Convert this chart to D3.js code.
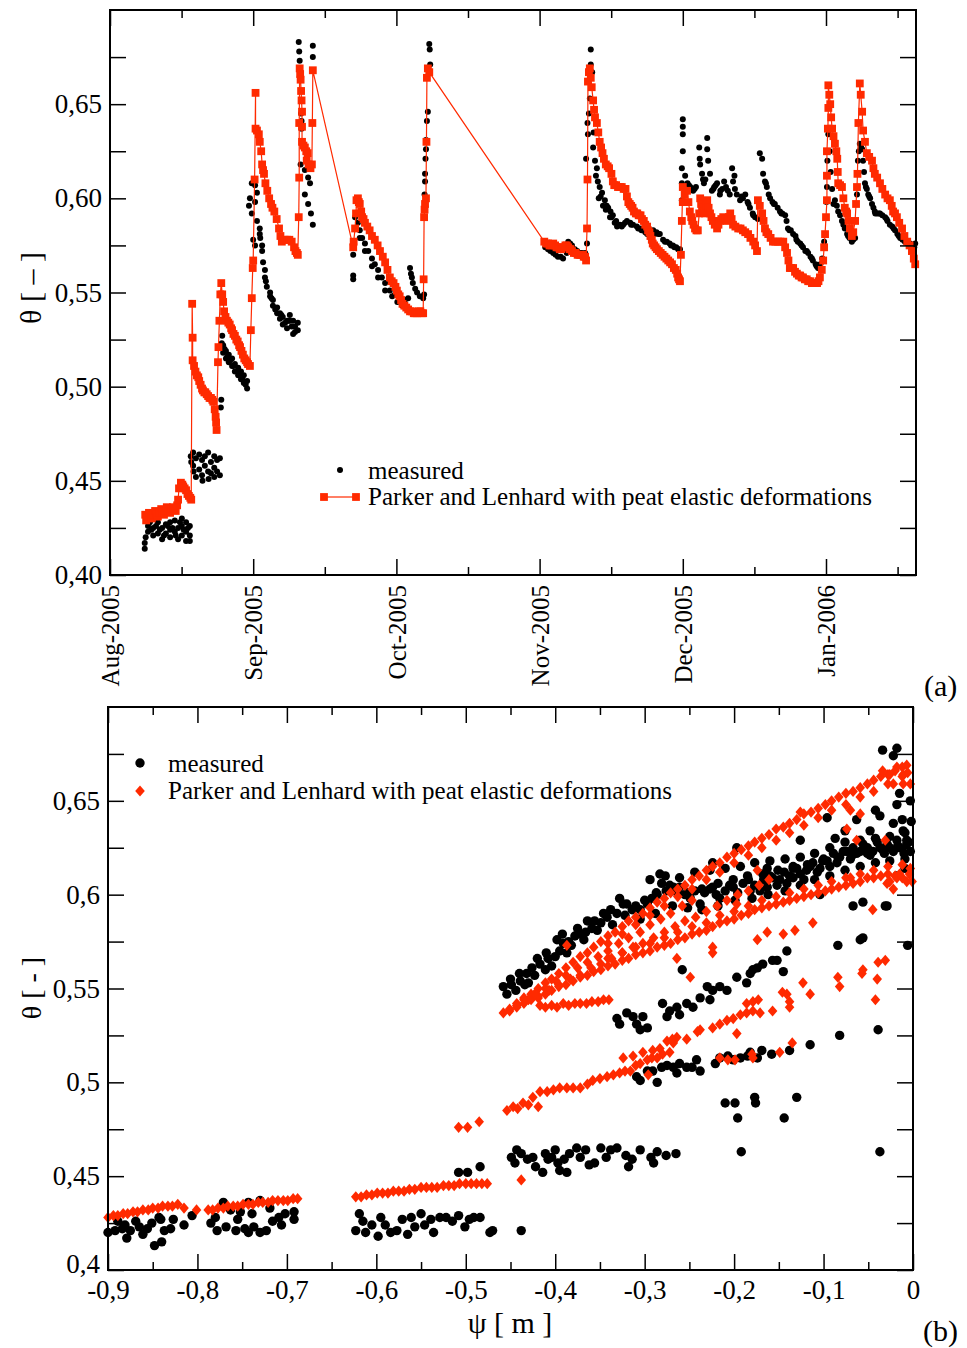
<!DOCTYPE html>
<html><head><meta charset="utf-8">
<script src="https://cdn.jsdelivr.net/npm/d3@7"></script>
<style>body{margin:0;background:#fff}svg text{font-family:"Liberation Serif","Times New Roman",serif;fill:#000}</style>
</head><body><svg id="c" width="967" height="1348"></svg>
<script>
// ---------- tick labels / categories ----------
const monthLabels=["Aug-2005","Sep-2005","Oct-2005","Nov-2005","Dec-2005","Jan-2006"];
const monthTicks=[0,30.5,61,91.5,122,152.5];
const monthMinor=[15.25,45.75,76.25,106.75,137.25,167.75];
const thetaTicks=[0.40,0.45,0.50,0.55,0.60,0.65];
const thetaLabelsA=["0,40","0,45","0,50","0,55","0,60","0,65"];
const thetaLabelsB=["0,4","0,45","0,5","0,55","0,6","0,65"];
const thetaMinor=[0.425,0.475,0.525,0.575,0.625,0.675];
const psiTicks=[-0.9,-0.8,-0.7,-0.6,-0.5,-0.4,-0.3,-0.2,-0.1,0];
const psiLabels=["-0,9","-0,8","-0,7","-0,6","-0,5","-0,4","-0,3","-0,2","-0,1","0"];
const psiMinor=[-0.85,-0.75,-0.65,-0.55,-0.45,-0.35,-0.25,-0.15,-0.05];
const seriesNames=["measured","Parker and Lenhard with peat elastic deformations"];

// ---------- panel (a): [day since 1 Aug 2005, theta] ----------
const measuredA=[
[7.4,0.414],[7.4,0.417],[7.6,0.420],[8.1,0.423],[8.1,0.426],[8.5,0.428],[8.8,0.424],[9.2,0.425],[9.2,0.421],[9.8,0.426],[10.2,0.422],[10.2,0.428],[10.6,0.424],[11.1,0.419],[11.1,0.425],[11.5,0.421],[11.9,0.427],[11.9,0.422],[12.3,0.426],[12.8,0.428],[12.8,0.424],[12.8,0.420],[13.3,0.425],[13.8,0.429],[13.8,0.423],[14.0,0.421],[14.5,0.425],[14.5,0.419],[14.9,0.428],[15.3,0.430],[15.3,0.426],[15.3,0.421],[15.7,0.424],[16.2,0.428],[16.2,0.423],[16.2,0.418],[16.6,0.425],[17.0,0.426],[17.0,0.421],[17.0,0.418],
[17.2,0.463],[17.3,0.460],[17.7,0.465],[17.7,0.458],[17.8,0.455],[18.3,0.462],[18.3,0.452],[19.0,0.464],[19.0,0.456],[19.6,0.461],[19.6,0.453],[19.7,0.450],[20.2,0.463],[20.2,0.458],[20.9,0.465],[20.9,0.455],[21.0,0.451],[21.5,0.460],[21.5,0.454],[22.2,0.463],[22.2,0.457],[22.2,0.452],[22.8,0.461],[22.8,0.455],[23.4,0.462],[23.4,0.453],
[23.6,0.489],[23.7,0.493],[23.8,0.523],[23.9,0.527],[24.1,0.522],[24.1,0.518],[24.4,0.520],[24.7,0.519],[24.7,0.515],[25.0,0.516],[25.3,0.517],[25.3,0.513],[25.6,0.514],[26.0,0.515],[26.0,0.511],[26.3,0.511],[26.6,0.512],[26.6,0.508],[27.0,0.508],[27.3,0.510],[27.3,0.506],[27.6,0.507],[27.9,0.508],[27.9,0.504],[28.2,0.504],[28.5,0.506],[28.5,0.502],[28.9,0.501],[29.2,0.503],[29.2,0.499],
[29.6,0.596],[29.8,0.600],[30.2,0.608],[30.2,0.592],[30.5,0.578],[30.9,0.607],[30.9,0.598],[30.9,0.575],[31.3,0.603],[31.3,0.588],[31.9,0.584],[31.9,0.581],[32.0,0.579],[32.4,0.575],[32.4,0.572],[32.6,0.566],[33.0,0.562],[33.0,0.558],[33.2,0.556],[33.4,0.553],[34.1,0.550],[34.1,0.548],[34.4,0.547],[34.7,0.546],[34.7,0.543],[35.2,0.541],[35.6,0.542],[35.6,0.539],[36.2,0.539],[36.2,0.536],[36.5,0.538],[36.8,0.537],[36.8,0.533],[37.3,0.534],[37.7,0.535],[37.7,0.531],[38.0,0.535],[38.3,0.538],[38.3,0.535],[38.7,0.532],[39.0,0.535],[39.0,0.528],[39.4,0.532],[39.4,0.529],[40.0,0.534],[40.0,0.530],
[40.2,0.683],[40.3,0.678],[40.4,0.673],[40.7,0.645],[40.8,0.641],[40.8,0.637],[40.9,0.629],[40.6,0.618],[41.5,0.615],[42.2,0.611],[42.6,0.608],[41.5,0.602],[42.2,0.597],[42.8,0.592],[43.2,0.586],[43.2,0.681],[43.2,0.675],
[51.8,0.570],[51.8,0.559],[51.8,0.557],[52.2,0.590],[52.8,0.587],[53.2,0.583],[53.2,0.579],[53.7,0.579],[54.3,0.576],[54.3,0.572],[55.0,0.572],[55.8,0.568],[55.8,0.564],[56.4,0.565],[57.1,0.562],[57.1,0.558],[57.9,0.558],[58.6,0.555],[58.6,0.551],[59.6,0.551],[60.1,0.548],[60.7,0.549],[61.2,0.545],[61.8,0.547],[62.3,0.543],[62.8,0.546],[63.5,0.547],
[63.9,0.563],[64.1,0.560],[64.3,0.558],[64.5,0.555],[65.0,0.552],[65.4,0.550],[66.0,0.548],[66.7,0.547],[66.9,0.549],
[67.0,0.602],[67.1,0.609],[67.1,0.613],[67.2,0.621],[67.3,0.626],[67.3,0.631],[67.5,0.641],[67.7,0.646],[68.0,0.682],[68.1,0.679],[68.2,0.671],
[92.7,0.574],[93.3,0.573],[93.8,0.572],[94.4,0.571],[94.9,0.570],[95.4,0.569],[96.0,0.569],[96.5,0.568],[97.3,0.571],[97.6,0.577],[98.0,0.576],[98.4,0.575],[99.0,0.573],[99.5,0.572],[100.0,0.571],[100.5,0.571],[101.2,0.571],[101.6,0.576],
[101.4,0.621],[101.7,0.640],[101.8,0.634],[102.0,0.645],[102.2,0.653],[102.4,0.679],[102.4,0.671],[102.7,0.667],
[102.9,0.627],[103.0,0.635],[103.3,0.620],[103.5,0.612],[103.7,0.616],[103.9,0.609],[104.1,0.600],[104.3,0.606],[104.5,0.601],[104.8,0.603],[105.0,0.596],[105.4,0.599],[105.6,0.594],[105.8,0.596],[106.1,0.595],[106.5,0.590],[106.6,0.593],[106.8,0.590],[107.1,0.591],[107.5,0.587],[107.8,0.588],[108.0,0.585],[108.6,0.586],[109.0,0.585],[109.3,0.586],[109.7,0.587],[110.1,0.588],[110.8,0.587],[111.0,0.586],[111.4,0.586],[112.2,0.585],[112.5,0.584],[112.9,0.584],[113.2,0.583],[113.6,0.583],[114.0,0.582],[114.4,0.581],[114.8,0.581],[115.0,0.582],[115.7,0.583],[116.0,0.581],[116.4,0.582],[116.8,0.581],[117.1,0.581],[117.8,0.578],[118.2,0.577],[118.6,0.577],[119.2,0.576],[119.5,0.575],[119.9,0.575],[120.2,0.574],[120.6,0.574],[121.0,0.573],[121.4,0.573],
[121.8,0.599],[121.8,0.608],[121.8,0.616],[122.0,0.625],[122.0,0.634],[122.0,0.638],[122.0,0.642],[122.5,0.612],[123.0,0.608],[123.3,0.607],[123.6,0.606],[124.2,0.604],[124.5,0.605],[124.8,0.606],[125.5,0.627],[125.6,0.621],[125.7,0.618],[126.1,0.613],[126.3,0.610],[126.5,0.608],[126.8,0.610],[127.2,0.632],[127.2,0.626],[127.4,0.620],[127.8,0.613],[128.2,0.604],[128.5,0.605],[128.7,0.606],[129.0,0.607],[129.3,0.608],[129.9,0.602],[130.0,0.604],[130.4,0.605],[130.8,0.609],[131.2,0.606],[131.6,0.604],[132.0,0.602],[132.5,0.616],[132.7,0.609],[133.0,0.612],[133.1,0.605],[133.5,0.602],[134.2,0.599],[134.5,0.601],[134.8,0.600],[135.3,0.602],[135.8,0.598],[136.0,0.597],[136.3,0.595],[136.9,0.592],[137.0,0.591],[137.4,0.590],[138.0,0.589],[138.4,0.624],[138.9,0.621],[139.1,0.613],[139.5,0.609],[139.7,0.608],[139.9,0.606],[140.3,0.602],[140.6,0.600],[141.1,0.598],[141.4,0.597],[141.6,0.597],[142.2,0.595],[142.7,0.593],[143.0,0.592],[143.2,0.592],[143.8,0.591],[144.1,0.588],[144.4,0.584],[144.7,0.583],[145.0,0.583],[145.5,0.581],[146.0,0.580],[146.2,0.578],[146.5,0.577],[147.0,0.576],[147.3,0.575],[147.6,0.574],[148.1,0.572],[148.4,0.572],[148.7,0.571],[149.2,0.569],[149.5,0.568],[149.7,0.567],[150.3,0.565],[150.5,0.564],[150.8,0.563],[151.0,0.563],[151.3,0.565],[151.7,0.568],[152.1,0.577],[152.5,0.590],[152.6,0.598],[152.7,0.606],[152.8,0.620],[153.0,0.634],[153.3,0.625],[153.5,0.614],[153.8,0.605],[154.1,0.597],[154.4,0.599],[154.8,0.596],[155.1,0.593],[155.5,0.591],[155.9,0.588],[156.2,0.586],[156.5,0.584],[157.0,0.581],[157.2,0.580],[157.5,0.579],[158.0,0.577],[158.3,0.578],[158.7,0.579],[159.1,0.602],[159.3,0.620],[159.5,0.625],[159.7,0.629],[160.0,0.627],[160.2,0.626],[160.4,0.620],[160.6,0.614],[160.8,0.608],[161.0,0.606],[161.2,0.605],[161.5,0.602],[161.7,0.601],[161.9,0.600],[162.3,0.597],[162.6,0.595],[162.9,0.593],[163.0,0.592],[163.4,0.592],[163.8,0.592],[164.0,0.592],[164.5,0.591],[165.1,0.590],[165.4,0.589],[165.6,0.588],[166.1,0.586],[166.6,0.585],[166.9,0.584],[167.2,0.583],[167.7,0.581],[168.0,0.580],[168.3,0.579],[168.8,0.578],[169.1,0.578],[169.3,0.577],[169.9,0.576],[170.1,0.576],[170.4,0.576],[170.7,0.575],[171.0,0.575],[171.3,0.574],[171.5,0.576]
];
const modelA=[
[7.5,0.432],[7.7,0.429],[8.0,0.431],[8.3,0.433],[8.6,0.431],[8.9,0.430],[9.3,0.432],[9.6,0.434],[9.9,0.432],[10.2,0.431],[10.6,0.433],[10.9,0.435],[11.2,0.433],[11.5,0.432],[11.8,0.434],[12.1,0.436],[12.5,0.434],[12.8,0.433],[13.1,0.435],[13.4,0.436],[13.7,0.435],[14.0,0.434],[14.3,0.437],[14.5,0.440],[14.7,0.446],[15.1,0.449],[15.4,0.448],[15.6,0.447],[15.9,0.446],[16.2,0.445],[16.5,0.443],[16.8,0.442],[17.1,0.441],[17.3,0.440],
[17.5,0.544],[17.6,0.526],[17.6,0.514],[17.9,0.511],[18.2,0.508],[18.5,0.506],[18.8,0.505],[19.0,0.503],[19.3,0.501],[19.6,0.499],[19.8,0.498],[20.1,0.497],[20.3,0.497],[20.6,0.496],[20.9,0.495],[21.2,0.494],[21.5,0.494],[21.8,0.493],[22.0,0.492],[22.3,0.488],[22.5,0.484],[22.6,0.481],[22.7,0.477],
[23.0,0.513],[23.1,0.521],[23.3,0.535],[23.5,0.549],[23.7,0.555],[23.9,0.549],[24.1,0.545],[24.3,0.540],[24.6,0.537],[24.9,0.535],[25.2,0.534],[25.5,0.533],[25.8,0.531],[26.0,0.530],[26.3,0.528],[26.6,0.527],[26.9,0.525],[27.2,0.524],[27.5,0.522],[27.7,0.521],[28.0,0.519],[28.3,0.517],[28.6,0.515],[28.9,0.514],[29.2,0.513],[29.4,0.512],[29.8,0.511],
[30.0,0.530],[30.2,0.547],[30.4,0.563],[30.5,0.567],[30.8,0.610],[31.0,0.656],[31.0,0.637],[31.3,0.636],[31.7,0.634],[31.9,0.630],[32.2,0.625],[32.4,0.618],[32.6,0.615],[32.8,0.613],[33.1,0.608],[33.5,0.604],[33.9,0.600],[34.3,0.597],[34.6,0.595],[35.0,0.593],[35.5,0.589],[36.0,0.584],[36.3,0.580],[36.6,0.577],[37.2,0.578],[37.7,0.578],[38.2,0.578],[38.7,0.577],[39.2,0.574],[39.5,0.572],[39.8,0.571],[40.0,0.570],
[40.2,0.590],[40.3,0.611],[40.3,0.640],[40.4,0.669],[40.5,0.666],[40.6,0.663],[40.7,0.657],[40.8,0.652],[40.9,0.646],[40.9,0.638],[40.9,0.630],[41.2,0.628],[41.5,0.627],[41.8,0.625],[42.1,0.624],[41.9,0.620],[42.3,0.618],[42.7,0.616],[43.0,0.618],[43.1,0.640],[43.2,0.668],
[51.8,0.574],[51.9,0.577],[52.2,0.584],[52.4,0.592],[52.5,0.599],[52.8,0.600],[53.0,0.598],[53.2,0.597],[53.5,0.593],[53.7,0.590],[54.0,0.589],[54.3,0.587],[54.8,0.585],[55.3,0.583],[55.8,0.580],[56.4,0.578],[57.0,0.575],[57.5,0.572],[58.1,0.569],[58.6,0.566],[59.1,0.562],[59.6,0.558],[60.0,0.556],[60.4,0.555],[60.8,0.553],[61.1,0.551],[61.4,0.549],[61.7,0.548],[62.0,0.546],[62.3,0.544],[62.7,0.543],[63.1,0.542],[63.5,0.541],[63.9,0.540],[64.3,0.540],[64.7,0.539],[65.0,0.539],[65.4,0.539],[65.8,0.540],[66.1,0.540],[66.4,0.539],[66.7,0.539],
[66.8,0.557],[66.9,0.590],[67.0,0.594],[67.1,0.597],[67.3,0.600],[67.4,0.630],[67.5,0.664],[67.7,0.669],[68.0,0.667],
[92.5,0.577],[92.9,0.576],[93.3,0.576],[93.6,0.575],[94.0,0.575],[94.4,0.576],[94.8,0.575],[95.1,0.574],[95.4,0.574],[95.8,0.573],[96.1,0.573],[96.4,0.574],[96.8,0.574],[97.0,0.575],[97.3,0.575],[97.6,0.574],[97.9,0.573],[98.1,0.573],[98.4,0.572],[98.8,0.571],[99.2,0.571],[99.6,0.570],[100.0,0.570],[100.3,0.570],[100.6,0.570],[100.9,0.569],[101.2,0.569],[101.4,0.567],[101.6,0.584],[101.7,0.610],[101.8,0.662],[102.0,0.667],[102.2,0.669],[102.4,0.664],
[102.6,0.659],[102.9,0.652],[103.1,0.647],[103.3,0.643],[103.7,0.640],[104.0,0.635],[104.3,0.630],[104.6,0.627],[104.9,0.624],[105.2,0.621],[105.6,0.618],[106.0,0.617],[106.3,0.616],[106.8,0.613],[107.1,0.609],[107.4,0.607],[107.8,0.607],[108.2,0.606],[108.6,0.606],[109.0,0.606],[109.4,0.605],[109.8,0.605],[110.1,0.601],[110.4,0.598],[110.7,0.597],[111.0,0.596],[111.3,0.595],[111.6,0.593],[112.0,0.592],[112.3,0.592],[112.6,0.591],[113.0,0.591],[113.3,0.589],[113.7,0.588],[114.0,0.586],[114.4,0.585],[114.6,0.583],[114.9,0.582],[115.1,0.580],[115.4,0.578],[115.6,0.576],[115.9,0.575],[116.2,0.574],[116.5,0.573],[116.9,0.572],[117.3,0.571],[117.7,0.570],[118.1,0.569],[118.5,0.568],[118.9,0.567],[119.3,0.566],[119.7,0.565],[120.1,0.563],[120.5,0.562],[120.8,0.560],[121.0,0.558],[121.2,0.557],[121.4,0.556],
[121.6,0.570],[121.8,0.588],[122.0,0.606],[122.0,0.598],[122.4,0.602],[122.9,0.604],[123.2,0.598],[123.5,0.593],[123.8,0.590],[124.0,0.588],[124.3,0.586],[124.6,0.584],[124.9,0.583],[125.2,0.583],[125.5,0.592],[125.7,0.600],[125.9,0.597],[126.1,0.595],[126.4,0.593],[126.7,0.592],[127.0,0.596],[127.2,0.599],[127.5,0.595],[127.8,0.592],[128.1,0.590],[128.4,0.588],[128.8,0.586],[129.3,0.584],[129.6,0.586],[129.9,0.588],[130.2,0.589],[130.6,0.590],[131.0,0.589],[131.4,0.588],[131.8,0.590],[132.1,0.592],[132.4,0.589],[132.7,0.586],[133.2,0.585],[133.8,0.584],[134.3,0.584],[134.8,0.583],[135.3,0.582],[135.9,0.581],[136.4,0.579],[137.0,0.577],[137.4,0.575],[137.8,0.572],[138.0,0.599],[138.4,0.596],[138.9,0.592],[139.2,0.588],[139.5,0.584],[139.8,0.582],[140.2,0.581],[140.7,0.579],[141.2,0.577],[141.7,0.577],[142.3,0.577],[142.8,0.577],[143.4,0.577],[143.8,0.574],[144.2,0.571],[144.5,0.567],[144.8,0.563],[145.1,0.563],[145.5,0.563],[145.9,0.561],[146.3,0.560],[146.7,0.559],[147.0,0.559],[147.3,0.558],[147.6,0.558],[148.0,0.557],[148.4,0.557],[148.7,0.556],[149.1,0.556],[149.5,0.555],[149.9,0.555],[150.2,0.555],[150.6,0.555],[150.9,0.556],[151.2,0.558],[151.6,0.562],[151.9,0.567],[152.1,0.574],[152.3,0.581],[152.5,0.590],[152.7,0.599],[152.7,0.612],[152.7,0.625],[152.9,0.637],[153.0,0.648],[153.0,0.660],[153.2,0.655],[153.4,0.650],[153.6,0.643],[153.8,0.637],[154.1,0.633],[154.4,0.629],[154.7,0.625],[154.9,0.621],[155.0,0.614],[155.1,0.608],[155.5,0.607],[155.9,0.606],[156.2,0.600],[156.5,0.595],[156.8,0.593],[157.0,0.592],[157.3,0.588],[157.6,0.584],[158.0,0.580],[158.3,0.582],[158.7,0.588],[158.9,0.597],[159.1,0.606],[159.2,0.613],[159.4,0.640],[159.7,0.661],[159.9,0.655],[160.2,0.646],[160.4,0.636],[160.8,0.630],[161.2,0.624],[161.7,0.622],[162.3,0.620],[162.6,0.616],[162.9,0.613],[163.4,0.611],[164.0,0.608],[164.5,0.605],[165.1,0.602],[165.6,0.600],[166.1,0.599],[166.5,0.596],[166.8,0.593],[167.2,0.592],[167.6,0.590],[168.1,0.587],[168.7,0.584],[169.2,0.580],[169.8,0.577],[170.3,0.575],[170.8,0.572],[171.2,0.568],[171.5,0.565]
];

// ---------- panel (b): [psi (m), theta] ----------
const measuredB=[
[-0.900,0.420],[-0.889,0.426],[-0.879,0.417],[-0.875,0.421],[-0.865,0.423],[-0.861,0.419],[-0.851,0.425],[-0.848,0.413],[-0.840,0.415],[-0.837,0.421],[-0.827,0.427],[-0.815,0.424],[-0.806,0.429],[-0.841,0.427],[-0.892,0.421],[-0.884,0.422],[-0.869,0.426],[-0.856,0.422],[-0.843,0.428],[-0.881,0.424],[-0.830,0.422],
[-0.785,0.425],[-0.778,0.421],[-0.768,0.423],[-0.757,0.421],[-0.747,0.422],[-0.743,0.420],[-0.737,0.423],[-0.730,0.420],[-0.723,0.421],[-0.716,0.426],[-0.709,0.428],[-0.702,0.430],[-0.692,0.427],[-0.692,0.431],[-0.743,0.436],[-0.730,0.437],[-0.771,0.436],[-0.763,0.432],[-0.752,0.431],[-0.739,0.430],[-0.719,0.433],[-0.706,0.424],[-0.755,0.427],[-0.780,0.428],
[-0.623,0.421],[-0.619,0.430],[-0.612,0.420],[-0.605,0.424],[-0.598,0.418],[-0.595,0.428],[-0.584,0.420],[-0.577,0.421],[-0.571,0.427],[-0.561,0.428],[-0.557,0.423],[-0.550,0.430],[-0.539,0.427],[-0.536,0.420],[-0.522,0.428],[-0.515,0.426],[-0.508,0.429],[-0.501,0.423],[-0.491,0.428],[-0.484,0.428],[-0.473,0.420],[-0.470,0.421],[-0.438,0.421],[-0.590,0.424],[-0.565,0.419],[-0.546,0.424],[-0.529,0.428],[-0.496,0.427],[-0.615,0.426],
[-0.508,0.452],[-0.498,0.452],[-0.484,0.455],
[-0.449,0.460],[-0.445,0.457],[-0.438,0.462],[-0.431,0.459],[-0.425,0.460],[-0.422,0.455],[-0.414,0.452],[-0.411,0.462],[-0.404,0.460],[-0.400,0.464],[-0.397,0.457],[-0.390,0.459],[-0.387,0.452],[-0.384,0.462],[-0.376,0.465],[-0.372,0.460],[-0.366,0.464],[-0.356,0.457],[-0.349,0.465],[-0.338,0.464],[-0.331,0.465],[-0.321,0.461],[-0.318,0.455],[-0.314,0.459],[-0.293,0.460],[-0.290,0.457],[-0.286,0.463],[-0.276,0.461],[-0.265,0.462],[-0.443,0.464],[-0.408,0.459],[-0.362,0.456],[-0.343,0.460],[-0.305,0.464],[-0.395,0.453],
[-0.192,0.463],[-0.037,0.463],
[-0.210,0.489],[-0.199,0.489],[-0.196,0.481],[-0.177,0.492],[-0.176,0.489],[-0.144,0.481],[-0.130,0.492],
[-0.309,0.503],[-0.305,0.501],[-0.297,0.506],[-0.291,0.506],[-0.286,0.500],[-0.281,0.508],[-0.275,0.509],[-0.268,0.508],[-0.264,0.505],[-0.261,0.510],[-0.253,0.508],[-0.247,0.508],[-0.242,0.512],[-0.238,0.506],[-0.221,0.510],[-0.216,0.513],[-0.207,0.514],[-0.201,0.512],[-0.193,0.513],[-0.185,0.514],[-0.182,0.516],[-0.174,0.513],[-0.169,0.517],[-0.158,0.515],[-0.138,0.517],[-0.115,0.520],[-0.082,0.525],[-0.039,0.528],
[-0.331,0.534],[-0.328,0.531],[-0.320,0.537],[-0.313,0.535],[-0.309,0.531],[-0.302,0.535],[-0.297,0.529],[-0.305,0.528],[-0.280,0.542],[-0.275,0.535],[-0.272,0.538],[-0.264,0.540],[-0.261,0.536],[-0.253,0.542],[-0.246,0.540],[-0.238,0.545],[-0.227,0.544],[-0.224,0.549],[-0.216,0.551],[-0.208,0.549],[-0.197,0.556],[-0.186,0.553],[-0.182,0.558],[-0.174,0.561],[-0.168,0.563],[-0.157,0.565],[-0.145,0.559],[-0.258,0.560],[-0.230,0.551],[-0.179,0.560],[-0.152,0.565],[-0.141,0.570],[-0.084,0.573],[-0.059,0.576],[-0.056,0.577],[-0.029,0.594],[-0.006,0.573],
[-0.458,0.551],[-0.454,0.547],[-0.449,0.552],[-0.444,0.549],[-0.439,0.554],[-0.434,0.552],[-0.432,0.558],[-0.426,0.561],[-0.423,0.557],[-0.417,0.563],[-0.411,0.560],[-0.408,0.566],[-0.404,0.562],[-0.398,0.576],[-0.395,0.570],[-0.391,0.574],[-0.387,0.569],[-0.382,0.573],[-0.378,0.578],[-0.372,0.579],[-0.368,0.576],[-0.364,0.586],[-0.359,0.582],[-0.353,0.581],[-0.349,0.585],[-0.342,0.588],[-0.336,0.584],[-0.331,0.590],[-0.328,0.598],[-0.324,0.595],[-0.320,0.595],[-0.314,0.592],[-0.310,0.594],[-0.305,0.592],[-0.300,0.597],[-0.297,0.595],[-0.292,0.598],[-0.287,0.601],[-0.283,0.611],[-0.281,0.606],[-0.276,0.602],[-0.272,0.605],[-0.268,0.604],[-0.263,0.601],[-0.261,0.604],[-0.255,0.600],[-0.249,0.598],[-0.244,0.602],[-0.238,0.595],[-0.233,0.601],[-0.227,0.603],[-0.224,0.604],[-0.220,0.600],[-0.216,0.598],[-0.210,0.602],[-0.205,0.605],[-0.201,0.604],[-0.196,0.601],[-0.190,0.606],[-0.184,0.608],[-0.182,0.602],[-0.177,0.605],[-0.171,0.602],[-0.167,0.608],[-0.163,0.604],[-0.160,0.610],[-0.157,0.609],[-0.152,0.605],[-0.149,0.608],[-0.144,0.612],[-0.141,0.606],[-0.138,0.610],[-0.134,0.609],[-0.130,0.614],[-0.126,0.611],[-0.122,0.608],[-0.119,0.613],[-0.115,0.615],[-0.112,0.617],[-0.107,0.612],[-0.104,0.614],[-0.100,0.619],[-0.096,0.618],[-0.093,0.615],[-0.089,0.622],[-0.085,0.617],[-0.082,0.620],[-0.078,0.623],[-0.074,0.623],[-0.070,0.619],[-0.067,0.625],[-0.063,0.622],[-0.059,0.623],[-0.056,0.627],[-0.051,0.625],[-0.048,0.621],[-0.045,0.623],[-0.040,0.628],[-0.037,0.625],[-0.032,0.622],[-0.029,0.627],[-0.026,0.625],[-0.022,0.623],[-0.018,0.629],[-0.015,0.625],[-0.010,0.622],[-0.007,0.627],[-0.003,0.623],
[-0.322,0.589],[-0.305,0.587],[-0.288,0.590],[-0.269,0.594],[-0.252,0.593],[-0.236,0.592],[-0.218,0.594],[-0.199,0.597],[-0.180,0.598],[-0.162,0.600],[-0.143,0.602],[-0.126,0.605],[-0.110,0.608],[-0.093,0.610],[-0.076,0.613],[-0.059,0.615],[-0.042,0.617],[-0.026,0.618],[-0.009,0.619],
[-0.294,0.608],[-0.277,0.610],[-0.261,0.609],[-0.244,0.612],[-0.227,0.613],[-0.210,0.614],[-0.193,0.615],[-0.177,0.617],[-0.160,0.618],[-0.143,0.619],[-0.126,0.620],[-0.110,0.622],[-0.093,0.625],[-0.076,0.628],[-0.059,0.629],[-0.042,0.630],[-0.026,0.631],[-0.009,0.633],
[-0.286,0.600],[-0.269,0.602],[-0.252,0.601],[-0.236,0.603],[-0.218,0.606],[-0.201,0.608],[-0.185,0.610],[-0.168,0.611],[-0.151,0.613],[-0.134,0.614],[-0.118,0.616],[-0.101,0.618],[-0.084,0.620],[-0.068,0.621],[-0.051,0.622],[-0.034,0.624],[-0.017,0.626],[-0.005,0.628],
[-0.440,0.558],[-0.430,0.553],[-0.420,0.566],[-0.410,0.569],[-0.400,0.567],[-0.392,0.579],[-0.385,0.575],[-0.375,0.582],[-0.366,0.580],[-0.356,0.586],[-0.346,0.590],[-0.338,0.592],[-0.450,0.555],
[-0.224,0.617],[-0.197,0.625],[-0.163,0.614],[-0.134,0.615],[-0.096,0.641],[-0.087,0.630],[-0.063,0.640],[-0.042,0.645],[-0.034,0.677],[-0.022,0.674],[-0.018,0.678],[-0.018,0.648],[-0.015,0.654],[-0.022,0.638],[-0.012,0.640],[-0.011,0.634],[-0.007,0.629],[-0.018,0.610],[-0.009,0.614],[-0.126,0.629],[-0.076,0.634],[-0.037,0.642],[-0.048,0.634],[-0.003,0.650],[-0.002,0.639],
[-0.104,0.600],[-0.067,0.594],[-0.056,0.596],[-0.031,0.594]
];
const modelB=[
[-0.900,0.428],[-0.894,0.429],[-0.889,0.429],[-0.883,0.430],[-0.878,0.430],[-0.872,0.431],[-0.867,0.431],[-0.861,0.432],[-0.855,0.432],[-0.850,0.433],[-0.844,0.433],[-0.839,0.434],[-0.833,0.434],[-0.828,0.434],[-0.822,0.435],[-0.815,0.433],[-0.801,0.432],
[-0.788,0.432],[-0.783,0.432],[-0.777,0.433],[-0.771,0.433],[-0.766,0.434],[-0.760,0.434],[-0.755,0.434],[-0.749,0.435],[-0.743,0.435],[-0.738,0.435],[-0.732,0.436],[-0.727,0.436],[-0.721,0.436],[-0.716,0.437],[-0.710,0.437],[-0.704,0.437],[-0.699,0.437],[-0.693,0.438],[-0.688,0.438],
[-0.623,0.439],[-0.617,0.439],[-0.611,0.440],[-0.605,0.440],[-0.599,0.441],[-0.593,0.441],[-0.587,0.441],[-0.581,0.442],[-0.575,0.442],[-0.569,0.442],[-0.563,0.443],[-0.557,0.443],[-0.550,0.444],[-0.544,0.444],[-0.538,0.444],[-0.532,0.444],[-0.525,0.445],[-0.519,0.445],[-0.513,0.445],[-0.507,0.446],[-0.500,0.446],[-0.494,0.446],[-0.488,0.446],[-0.482,0.446],[-0.476,0.446],
[-0.508,0.476],[-0.498,0.476],[-0.485,0.479],[-0.438,0.448],
[-0.454,0.485],[-0.447,0.487],[-0.442,0.486],[-0.436,0.489],[-0.430,0.488],[-0.425,0.492],[-0.419,0.487],[-0.417,0.495],[-0.409,0.495],[-0.402,0.496],[-0.395,0.497],[-0.387,0.497],[-0.380,0.497],[-0.372,0.497],[-0.364,0.499],[-0.358,0.501],[-0.350,0.502],[-0.342,0.503],[-0.335,0.504],[-0.328,0.505],[-0.322,0.506],[-0.316,0.506],[-0.310,0.509],[-0.305,0.510],[-0.297,0.512],[-0.292,0.513],[-0.286,0.513],[-0.280,0.515],[-0.272,0.516],[-0.268,0.521],[-0.324,0.513],[-0.313,0.514],[-0.302,0.516],[-0.291,0.517],[-0.283,0.518],[-0.275,0.522],[-0.269,0.523],[-0.264,0.524],[-0.253,0.523],[-0.241,0.527],[-0.238,0.528],[-0.224,0.529],[-0.216,0.531],[-0.208,0.533],[-0.201,0.534],[-0.193,0.536],[-0.186,0.537],[-0.179,0.538],[-0.171,0.537],[-0.186,0.542],[-0.179,0.543],[-0.173,0.544],[-0.157,0.538],[-0.146,0.548],[-0.141,0.547],[-0.138,0.543],[-0.138,0.540],[-0.123,0.553],[-0.115,0.547],[-0.084,0.556],[-0.082,0.551],[-0.057,0.558],[-0.056,0.560],[-0.040,0.555],[-0.042,0.544],[-0.031,0.565],[-0.039,0.564],[-0.216,0.513],[-0.207,0.512],[-0.199,0.512],[-0.180,0.515],[-0.179,0.513],[-0.149,0.516],[-0.135,0.521],[-0.197,0.526],[-0.296,0.504],
[-0.417,0.541],[-0.411,0.540],[-0.404,0.541],[-0.398,0.540],[-0.391,0.542],[-0.385,0.541],[-0.378,0.542],[-0.372,0.542],[-0.365,0.542],[-0.359,0.543],[-0.352,0.543],[-0.346,0.544],[-0.340,0.544],
[-0.458,0.537],[-0.451,0.538],[-0.443,0.540],[-0.435,0.542],[-0.427,0.544],[-0.419,0.545],[-0.411,0.547],[-0.404,0.549],[-0.396,0.551],[-0.388,0.552],[-0.380,0.554],[-0.372,0.556],[-0.364,0.557],[-0.357,0.559],[-0.349,0.560],[-0.341,0.562],[-0.333,0.563],[-0.325,0.565],[-0.318,0.566],[-0.310,0.568],[-0.302,0.569],[-0.294,0.570],[-0.286,0.572],[-0.278,0.573],[-0.271,0.574],[-0.263,0.576],[-0.255,0.577],[-0.247,0.579],[-0.239,0.580],[-0.231,0.581],[-0.224,0.583],[-0.216,0.585],[-0.208,0.586],[-0.200,0.587],[-0.192,0.589],[-0.184,0.590],[-0.177,0.592],[-0.169,0.593],[-0.161,0.594],[-0.153,0.595],[-0.145,0.596],[-0.138,0.597],[-0.130,0.598],[-0.122,0.599],[-0.114,0.600],[-0.106,0.601],[-0.098,0.602],[-0.091,0.603],[-0.083,0.604],[-0.075,0.605],[-0.067,0.606],[-0.059,0.607],[-0.051,0.609],[-0.044,0.609],[-0.036,0.610],[-0.028,0.611],[-0.020,0.610],[-0.012,0.609],[-0.004,0.611],
[-0.341,0.566],[-0.325,0.569],[-0.310,0.572],[-0.294,0.574],[-0.278,0.577],[-0.263,0.580],[-0.247,0.583],[-0.231,0.585],[-0.216,0.589],[-0.200,0.591],[-0.184,0.594],[-0.169,0.597],[-0.153,0.599],[-0.138,0.601],[-0.122,0.603],[-0.106,0.605],[-0.091,0.607],[-0.075,0.609],[-0.059,0.611],[-0.044,0.613],[-0.028,0.615],[-0.012,0.616],
[-0.451,0.539],[-0.443,0.542],[-0.435,0.545],[-0.427,0.547],[-0.419,0.550],[-0.411,0.553],[-0.404,0.555],[-0.396,0.558],[-0.388,0.561],[-0.380,0.564],[-0.372,0.567],[-0.364,0.569],[-0.357,0.572],[-0.349,0.575],[-0.341,0.578],[-0.333,0.580],[-0.325,0.583],[-0.318,0.586],[-0.310,0.588],[-0.302,0.590],[-0.294,0.593],[-0.286,0.596],[-0.278,0.598],[-0.271,0.601],[-0.263,0.603],[-0.255,0.605],[-0.247,0.608],[-0.239,0.610],[-0.231,0.613],[-0.224,0.615],[-0.216,0.617],[-0.208,0.620],[-0.200,0.622],[-0.192,0.624],[-0.184,0.626],[-0.177,0.628],[-0.169,0.630],[-0.161,0.632],[-0.153,0.635],[-0.145,0.636],[-0.138,0.638],[-0.130,0.640],[-0.122,0.643],[-0.114,0.644],[-0.106,0.646],[-0.098,0.648],[-0.091,0.650],[-0.083,0.652],[-0.075,0.654],[-0.067,0.655],[-0.059,0.657],[-0.051,0.659],[-0.044,0.661],[-0.036,0.663],[-0.028,0.664],[-0.020,0.666],[-0.012,0.668],[-0.007,0.669],
[-0.341,0.574],[-0.325,0.579],[-0.310,0.584],[-0.294,0.589],[-0.278,0.594],[-0.263,0.599],[-0.247,0.603],[-0.231,0.608],[-0.216,0.612],[-0.200,0.617],[-0.184,0.621],[-0.169,0.625],[-0.153,0.629],[-0.138,0.633],[-0.122,0.637],[-0.106,0.641],[-0.091,0.645],[-0.075,0.648],[-0.059,0.652],[-0.044,0.655],[-0.028,0.659],[-0.012,0.663],
[-0.443,0.541],[-0.430,0.544],[-0.419,0.546],[-0.407,0.549],[-0.396,0.552],[-0.383,0.555],[-0.372,0.557],[-0.360,0.561],[-0.349,0.563],[-0.337,0.566],[-0.325,0.569],[-0.313,0.572],[-0.302,0.574],[-0.290,0.577],[-0.278,0.580],[-0.266,0.583],[-0.255,0.586],[-0.243,0.588],[-0.231,0.591],[-0.219,0.594],[-0.208,0.597],[-0.196,0.600],[-0.184,0.602],[-0.172,0.605],[-0.161,0.608],
[-0.435,0.544],[-0.423,0.547],[-0.411,0.550],[-0.399,0.554],[-0.388,0.557],[-0.375,0.561],[-0.364,0.564],[-0.352,0.567],[-0.341,0.570],[-0.329,0.574],[-0.318,0.577],[-0.305,0.580],[-0.294,0.584],[-0.282,0.587],[-0.271,0.590],[-0.258,0.594],[-0.247,0.597],
[-0.387,0.573],[-0.174,0.613],[-0.126,0.644],[-0.070,0.645],[-0.059,0.643],[-0.074,0.635],[-0.063,0.629],[-0.031,0.629],[-0.070,0.609],[-0.029,0.606],[-0.022,0.603],[-0.018,0.609],[-0.007,0.607],[-0.003,0.614],[-0.174,0.576],[-0.163,0.580],[-0.145,0.579],[-0.132,0.581],[-0.112,0.585],[-0.045,0.592],[-0.249,0.556],[-0.224,0.572],[-0.224,0.569],[-0.264,0.566],[-0.197,0.595],
[-0.034,0.666],[-0.018,0.668],[-0.011,0.664],[-0.022,0.659],[-0.011,0.659],[-0.026,0.664],[-0.006,0.665],[-0.003,0.659],[-0.026,0.607],[-0.015,0.611],[-0.001,0.607]
];

// ---------- drawing ----------
const RED="#ff2a00";
const FONT='"Liberation Serif","Times New Roman",serif';
const svg=d3.select("#c");

function frameAxes(x,y,box,opt){
  const g=svg.append("g");
  const bottom=g.append("g").attr("transform",`translate(0,${box.b})`)
    .call(d3.axisBottom(x).tickValues(opt.xMajor).tickSize(-16).tickPadding(opt.xPad).tickFormat((d,i)=>opt.xLabels[i]));
  g.append("g").attr("transform",`translate(0,${box.b})`).call(d3.axisBottom(x).tickValues(opt.xMinor).tickSize(-8).tickFormat(""));
  g.append("g").attr("transform",`translate(0,${box.t})`).call(d3.axisTop(x).tickValues(opt.xMajor).tickSize(-16).tickFormat(""));
  g.append("g").attr("transform",`translate(0,${box.t})`).call(d3.axisTop(x).tickValues(opt.xMinor).tickSize(-8).tickFormat(""));
  const left=g.append("g").attr("transform",`translate(${box.l},0)`)
    .call(d3.axisLeft(y).tickValues(thetaTicks).tickSize(-16).tickPadding(8).tickFormat((d,i)=>opt.yLabels[i]));
  g.append("g").attr("transform",`translate(${box.l},0)`).call(d3.axisLeft(y).tickValues(thetaMinor).tickSize(-16).tickFormat(""));
  g.append("g").attr("transform",`translate(${box.r},0)`).call(d3.axisRight(y).tickValues(thetaTicks.concat(thetaMinor)).tickSize(-16).tickFormat(""));
  g.selectAll(".domain").remove();
  g.selectAll(".tick line").attr("stroke","#000").attr("stroke-width",1.5);
  g.selectAll("text").style("font-size","27px").style("font-family",FONT).attr("fill","#000");
  g.append("rect").attr("x",box.l).attr("y",box.t).attr("width",box.r-box.l).attr("height",box.b-box.t)
    .attr("fill","none").attr("stroke","#000").attr("stroke-width",2);
  return {bottom,left};
}

// Panel (a)
const boxA={l:110,r:916,t:10,b:575};
const xA=d3.scaleLinear().domain([0,171.67]).range([boxA.l,boxA.r]);
const yA=d3.scaleLinear().domain([0.4,0.7]).range([boxA.b,boxA.t]);
const gA=svg.append("g");
gA.selectAll("circle.m").data(measuredA).join("circle").attr("cx",d=>xA(d[0])).attr("cy",d=>yA(d[1])).attr("r",3).attr("fill","#000");
gA.append("path").datum(modelA).attr("d",d3.line().x(d=>xA(d[0])).y(d=>yA(d[1]))).attr("fill","none").attr("stroke",RED).attr("stroke-width",1.2);
gA.selectAll("rect.p").data(modelA).join("rect").attr("x",d=>xA(d[0])-3.9).attr("y",d=>yA(d[1])-3.9).attr("width",7.8).attr("height",7.8).attr("fill",RED);
const axA=frameAxes(xA,yA,boxA,{xMajor:monthTicks,xMinor:monthMinor,xLabels:monthLabels,yLabels:thetaLabelsA,xPad:10});
axA.bottom.selectAll(".tick text").attr("transform","rotate(-90)").attr("x",-10).attr("y",0).attr("dy","0.35em").style("text-anchor","end").style("font-size","25px");
svg.append("text").attr("transform","translate(41,288) rotate(-90)").attr("text-anchor","middle").style("font-size","30px").text("θ [ – ]");
svg.append("text").attr("x",924).attr("y",696).style("font-size","30px").text("(a)");
// legend (a)
svg.append("circle").attr("cx",340).attr("cy",470).attr("r",3).attr("fill","#000");
svg.append("text").attr("x",368).attr("y",479).style("font-size","25px").text(seriesNames[0]);
svg.append("line").attr("x1",324).attr("x2",356).attr("y1",497).attr("y2",497).attr("stroke",RED).attr("stroke-width",1.2);
[324,356].forEach(cx=>svg.append("rect").attr("x",cx-3.9).attr("y",497-3.9).attr("width",7.8).attr("height",7.8).attr("fill",RED));
svg.append("text").attr("x",368).attr("y",505).style("font-size","25px").text(seriesNames[1]);

// Panel (b)
const boxB={l:108,r:913,t:707,b:1270};
const xB=d3.scaleLinear().domain([-0.9,0]).range([boxB.l,boxB.r]);
const yB=d3.scaleLinear().domain([0.4,0.7]).range([boxB.b,boxB.t]);
const gB=svg.append("g");
const diamond="M0,-5.6L4.8,0L0,5.6L-4.8,0Z";
gB.selectAll("circle").data(measuredB).join("circle").attr("cx",d=>xB(d[0])).attr("cy",d=>yB(d[1])).attr("r",4.7).attr("fill","#000");
gB.selectAll("path").data(modelB).join("path").attr("d",diamond).attr("transform",d=>`translate(${xB(d[0])},${yB(d[1])})`).attr("fill",RED);
const axB=frameAxes(xB,yB,boxB,{xMajor:psiTicks,xMinor:psiMinor,xLabels:psiLabels,yLabels:thetaLabelsB,xPad:10});
axB.left.selectAll(".tick text").filter((d,i)=>i===0).attr("dy","0.1em");
svg.append("text").attr("transform","translate(41,988) rotate(-90)").attr("text-anchor","middle").style("font-size","28px").text("θ [ - ]");
svg.append("text").attr("x",510).attr("y",1333).attr("text-anchor","middle").style("font-size","30px").text("ψ [ m ]");
svg.append("text").attr("x",923).attr("y",1341).style("font-size","30px").text("(b)");
// legend (b)
svg.append("circle").attr("cx",140).attr("cy",763).attr("r",4.7).attr("fill","#000");
svg.append("text").attr("x",168).attr("y",772).style("font-size","25px").text(seriesNames[0]);
svg.append("path").attr("d",diamond).attr("transform","translate(140,791)").attr("fill",RED);
svg.append("text").attr("x",168).attr("y",799).style("font-size","25px").text(seriesNames[1]);
</script></body></html>
